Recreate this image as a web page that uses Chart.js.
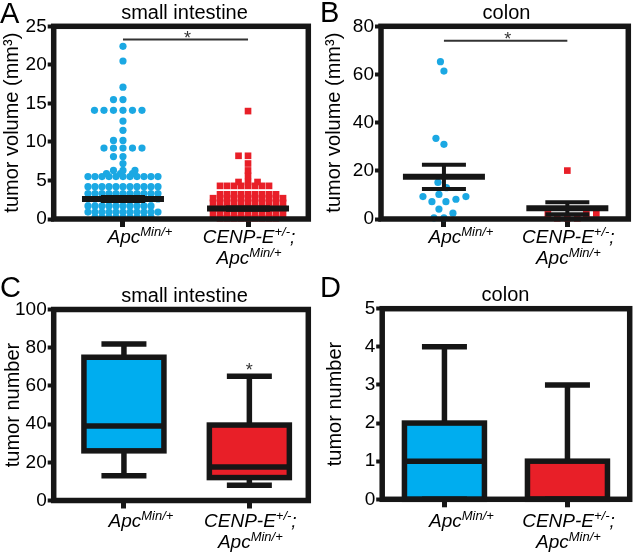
<!DOCTYPE html>
<html>
<head>
<meta charset="utf-8">
<script src="https://cdn.jsdelivr.net/npm/chart.js@4.4.1/dist/chart.umd.min.js"></script>
<style>
  html, body { margin: 0; padding: 0; background: #fff; }
  #wrap { position: relative; width: 633px; height: 555px; overflow: hidden; }
  #wrap canvas { position: absolute; left: 0; top: 0; }
</style>
</head>
<body>
<div id="wrap">
  <canvas id="chA" width="633" height="555"></canvas>
  <canvas id="chB" width="633" height="555"></canvas>
  <canvas id="chC" width="633" height="555"></canvas>
  <canvas id="chD" width="633" height="555"></canvas>
</div>
<script>
// groups (x categories)
const groups = ['Apc Min/+', 'CENP-E+/-; Apc Min/+'];

// A - small intestine, tumor volume (mm3), one value per tumor
const siVolApc = [
  22.4, 20.5, 17.1, 15.5, 15.5,
  14.1, 14.1, 14.1, 14.1, 14.1, 14.1,
  12.7, 11.5, 10.2, 10.2,
  9.2, 9.2, 9.2, 9.2, 9.2,
  8.1, 8.1, 7.2, 6.3, 6.3, 6.3,
  5.9, 5.9, 5.9,
  5.5, 5.5, 5.5, 5.5, 5.5, 5.5, 5.5, 5.5, 5.5, 5.5, 5.5,
  4.2, 4.2, 4.2, 4.2, 4.2, 4.2, 4.2, 4.2, 4.2, 4.2, 4.2,
  3.3, 3.3, 3.3, 3.3, 3.3, 3.3, 3.3, 3.3, 3.3, 3.3, 3.3,
  2.6, 2.6, 2.6, 2.6, 2.6, 2.6, 2.6, 2.6, 2.6, 2.6, 2.6,
  1.7, 1.7, 1.7, 1.7, 1.7, 1.7, 1.7, 1.7, 1.7, 1.7,
  0.9, 0.9, 0.9, 0.9, 0.9, 0.9, 0.9, 0.9, 0.9, 0.9, 0.9,
  0.2, 0.2, 0.2, 0.2, 0.2, 0.2, 0.2, 0.2, 0.2
];
const siVolCenp = [
  14.0, 8.2, 8.2, 7.2, 6.3, 5.6,
  4.8, 4.8, 4.8,
  4.3, 4.3, 4.3, 4.3, 4.3, 4.3, 4.3, 4.3,
  3.2, 3.2, 3.2, 3.2, 3.2, 3.2, 3.2, 3.2, 3.2,
  2.7, 2.7, 2.7, 2.7, 2.7, 2.7, 2.7, 2.7, 2.7, 2.7, 2.7,
  2.1, 2.1, 2.1, 2.1, 2.1, 2.1, 2.1, 2.1, 2.1, 2.1, 2.1,
  1.35, 1.35, 1.35, 1.35, 1.35, 1.35, 1.35, 1.35, 1.35, 1.35, 1.35,
  0.65, 0.65, 0.65, 0.65, 0.65, 0.65, 0.65, 0.65, 0.65, 0.65, 0.65,
  0.1, 0.1, 0.1, 0.1, 0.1, 0.1, 0.1, 0.1, 0.1
];
const siVolMean = [2.6, 1.35];
const siVolSem = [0.25, 0.15];
const siVolSig = 23.3;

// B - colon, tumor volume (mm3)
const coVolApc = [65.3, 61.4, 33.5, 31.0, 15.2, 13.0, 10.2, 9.3, 9.3, 8.2, 7.2, 7.2, 4.1, 2.4, 0.5, 0.5];
const coVolCenp = [20.1, 2.3, 2.2, 2.0, 0.3, 0.3, 0.3];
const coVolMean = [17.5, 4.5];
const coVolSem = [5.0, 2.5];
const coVolSig = 74;

// C - small intestine, tumor number (box & whiskers, min to max)
const siNumMin = [13, 8];
const siNumQ1  = [26, 12];
const siNumMed = [39, 17.5];
const siNumQ3  = [75, 39.5];
const siNumMax = [82, 65];
const siNumStar = 70.5;   // asterisk above CENP-E group

// D - colon, tumor number
const coNumMin = [0, 0];
const coNumQ1  = [0, 0];
const coNumMed = [1, 0];
const coNumQ3  = [2, 1];
const coNumMax = [4, 3];

// y axes
const yMaxA = 25, yStepA = 5;
const yMaxB = 80, yStepB = 20;
const yMaxC = 100, yStepC = 20;
const yMaxD = 5, yStepD = 1;

const FONT = '"Liberation Sans", Arial, Helvetica, sans-serif';
const INK = '#161616';
const BLUE = '#1ba8e3';
const RED = '#e81f28';
const BOXBLUE = '#00adef';
const W = 633, H = 555, YW = 40, XH = 20;

// plot frames (page pixels) and x ranges
const geoA = { left: 53.7, top: 26.3, right: 308.3, bottom: 219, xMin: -0.554, xMax: 1.482 };
const geoB = { left: 381, top: 26.3, right: 628.5, bottom: 219, xMin: -0.51, xMax: 1.494 };
const geoC = { left: 53.7, top: 309.5, right: 308.3, bottom: 500.5, xMin: -0.56, xMax: 1.47 };
const geoD = { left: 382.2, top: 308.7, right: 629.7, bottom: 499.3, xMin: -0.506, xMax: 1.506 };

// beeswarm: spread points sideways so they do not overlap;
// crowded rows are packed tighter than sparse ones
function swarm(values, cat, g, yMax, sw) {
  const pxX = (g.right - g.left) / (g.xMax - g.xMin);
  const pxY = (g.bottom - g.top) / yMax;
  const counts = {};
  values.forEach(v => { counts[v] = (counts[v] || 0) + 1; });
  const placed = [];
  values.slice().sort((a, b) => a - b).forEach(v => {
    const py = v * pxY;
    const gap = counts[v] > 6 ? sw.dense : sw.sparse;
    let o = 0;
    for (let k = 0; k < 600; k++) {
      o = (k % 2 ? -1 : 1) * Math.ceil(k / 2) * 0.5;
      const ok = placed.every(p => {
        const d = Math.max(gap, p.gap);
        return (p.o - o) ** 2 + ((p.py - py) * sw.kY) ** 2 >= d * d;
      });
      if (ok) break;
    }
    placed.push({ v, py, o, gap });
  });
  return placed.map(p => ({ x: cat + p.o / pxX, y: p.v }));
}

function layoutFor(g) {
  return { padding: { left: g.left - YW, top: g.top, right: W - g.right, bottom: H - g.bottom - XH } };
}

function axes(g, yMax, yStep) {
  return {
    x: {
      type: 'linear', min: g.xMin, max: g.xMax, offset: false,
      afterBuildTicks: s => { s.ticks = groups.map((_, i) => ({ value: i })); },
      afterFit: s => { s.height = XH; },
      ticks: { display: false },
      grid: { offset: false, drawOnChartArea: false, drawTicks: true, tickLength: 8, tickWidth: 5, tickColor: INK },
      border: { display: false }
    },
    y: {
      type: 'linear', min: 0, max: yMax,
      afterFit: s => { s.width = YW; },
      ticks: { stepSize: yStep, color: '#000', padding: 1, font: { family: FONT, size: 19 } },
      grid: { drawOnChartArea: false, drawTicks: true, tickLength: 6, tickWidth: 4, tickColor: INK },
      border: { display: false }
    }
  };
}

// x labels with superscripts: [base, sup, tail] per line
const groupLabels = [
  [['Apc', 'Min/+', '']],
  [['CENP-E', '+/-', ';'], ['Apc', 'Min/+', '']]
];
const labelShift = [17, 1];

function drawRich(ctx, cx, y, line) {
  const big = 'italic 19px ' + FONT, small = 'italic 13px ' + FONT;
  ctx.font = big; const w1 = ctx.measureText(line[0]).width, w3 = ctx.measureText(line[2]).width;
  ctx.font = small; const w2 = ctx.measureText(line[1]).width;
  let x = cx - (w1 + w2 + w3) / 2;
  ctx.textAlign = 'left'; ctx.textBaseline = 'alphabetic';
  ctx.font = big; ctx.fillText(line[0], x, y); x += w1;
  ctx.font = small; ctx.fillText(line[1], x, y - 7); x += w2;
  ctx.font = big; ctx.fillText(line[2], x, y);
}

function star(ctx, x, cy) {
  ctx.font = '18px ' + FONT; ctx.textAlign = 'center'; ctx.textBaseline = 'alphabetic';
  ctx.fillStyle = '#333';
  ctx.fillText('*', x, cy + 10.4);
}

function line(ctx, x1, y1, x2, y2) {
  ctx.beginPath(); ctx.moveTo(x1, y1); ctx.lineTo(x2, y2); ctx.stroke();
}

function decoPlugin(p) {
  return {
    id: 'deco',
    afterDatasetsDraw(chart) {
      const { ctx, chartArea: a } = chart;
      ctx.save();
      if (p.marks) p.marks(chart);
      ctx.strokeStyle = INK; ctx.lineWidth = 5.5; ctx.lineJoin = 'miter';
      ctx.strokeRect(a.left, a.top, a.right - a.left, a.bottom - a.top);
      ctx.restore();
    },
    afterDraw(chart) {
      const { ctx, chartArea: a, scales: { x } } = chart;
      ctx.save();
      ctx.fillStyle = '#000';
      ctx.font = '29px ' + FONT; ctx.textAlign = 'left'; ctx.textBaseline = 'alphabetic';
      ctx.fillText(p.letter, p.letterX, p.letterY);
      ctx.font = '20px ' + FONT; ctx.textAlign = 'center';
      ctx.fillText(p.title, p.titleX, p.titleY);
      ctx.save();
      ctx.translate(p.yTitleX, (a.top + a.bottom) / 2);
      ctx.rotate(-Math.PI / 2);
      ctx.textBaseline = 'middle';
      ctx.fillText(p.yTitle, 0, 0);
      ctx.restore();
      groupLabels.forEach((lines, i) => {
        const cx = x.getPixelForValue(i) + labelShift[i];
        lines.forEach((ln, j) => drawRich(ctx, cx, p.labelY + j * 21, ln));
      });
      if (p.after) p.after(chart);
      ctx.restore();
    }
  };
}

function meanSemMarks(means, sems) {
  return chart => {
    const { ctx, scales: { x, y } } = chart;
    ctx.strokeStyle = INK; ctx.lineCap = 'butt';
    means.forEach((m, i) => {
      const cx = x.getPixelForValue(i);
      const my = y.getPixelForValue(m);
      const hi = y.getPixelForValue(m + sems[i]), lo = y.getPixelForValue(m - sems[i]);
      ctx.lineWidth = 4;
      line(ctx, cx, hi, cx, lo);
      line(ctx, cx - 22, hi, cx + 22, hi);
      line(ctx, cx - 22, lo, cx + 22, lo);
      ctx.lineWidth = 6;
      line(ctx, cx - 41, my, cx + 41, my);
    });
  };
}

function sigBar(level) {
  return chart => {
    const { ctx, scales: { x, y } } = chart;
    const ly = y.getPixelForValue(level);
    const x0 = x.getPixelForValue(0), x1 = x.getPixelForValue(1);
    ctx.strokeStyle = '#333'; ctx.lineWidth = 2;
    line(ctx, x0, ly, x1, ly);
    star(ctx, (x0 + x1) / 2 + 2, ly - 6);
  };
}

function boxMarks(mins, q1, med, q3, maxs) {
  return chart => {
    const { ctx, scales: { y } } = chart;
    const meta = chart.getDatasetMeta(0);
    ctx.strokeStyle = INK; ctx.lineWidth = 5.5; ctx.lineCap = 'butt'; ctx.lineJoin = 'miter';
    meta.data.forEach((bar, i) => {
      const cx = bar.x, hw = bar.width / 2;
      const yMin = y.getPixelForValue(mins[i]), yMax = y.getPixelForValue(maxs[i]);
      const yQ1 = y.getPixelForValue(q1[i]), yQ3 = y.getPixelForValue(q3[i]);
      const yMed = y.getPixelForValue(med[i]);
      line(ctx, cx, yQ3, cx, yMax);
      line(ctx, cx - 22.5, yMax, cx + 22.5, yMax);
      line(ctx, cx, yQ1, cx, yMin);
      line(ctx, cx - 22.5, yMin, cx + 22.5, yMin);
      ctx.strokeRect(cx - hw, yQ3, hw * 2, yQ1 - yQ3);
      line(ctx, cx - hw, yMed, cx + hw, yMed);
    });
  };
}

function scatterChart(id, g, yMax, yStep, apc, cenp, sw, p) {
  return new Chart(document.getElementById(id), {
    type: 'scatter',
    data: {
      datasets: [
        { data: swarm(apc, 0, g, yMax, sw), pointStyle: 'circle', pointRadius: 3.6,
          backgroundColor: BLUE, borderWidth: 0, clip: false },
        { data: swarm(cenp, 1, g, yMax, sw), pointStyle: 'rect', pointRadius: 4.7,
          backgroundColor: RED, borderWidth: 0, clip: false }
      ]
    },
    options: {
      responsive: false, animation: false, events: [],
      layout: layoutFor(g),
      plugins: { legend: { display: false }, tooltip: { enabled: false } },
      scales: axes(g, yMax, yStep)
    },
    plugins: [decoPlugin(p)]
  });
}

function boxChart(id, g, yMax, yStep, mins, q1, med, q3, maxs, p) {
  return new Chart(document.getElementById(id), {
    type: 'bar',
    data: {
      datasets: [{
        data: groups.map((_, i) => ({ x: i, y: [q1[i], q3[i]] })),
        backgroundColor: [BOXBLUE, RED], borderWidth: 0, barThickness: 80
      }]
    },
    options: {
      responsive: false, animation: false, events: [],
      layout: layoutFor(g),
      plugins: { legend: { display: false }, tooltip: { enabled: false } },
      scales: axes(g, yMax, yStep)
    },
    plugins: [decoPlugin(Object.assign({ marks: boxMarks(mins, q1, med, q3, maxs) }, p))]
  });
}

scatterChart('chA', geoA, yMaxA, yStepA, siVolApc, siVolCenp, { sparse: 9.5, dense: 7, kY: 3 }, {
  letter: 'A', letterX: 0, letterY: 23, title: 'small intestine', titleX: 184.5, titleY: 19,
  yTitle: 'tumor volume (mm³)', yTitleX: 12, labelY: 243,
  marks: meanSemMarks(siVolMean, siVolSem), after: sigBar(siVolSig)
});

scatterChart('chB', geoB, yMaxB, yStepB, coVolApc, coVolCenp, { sparse: 10, dense: 10, kY: 1 }, {
  letter: 'B', letterX: 320, letterY: 22, title: 'colon', titleX: 506.5, titleY: 19,
  yTitle: 'tumor volume (mm³)', yTitleX: 334, labelY: 243,
  marks: meanSemMarks(coVolMean, coVolSem), after: sigBar(coVolSig)
});

boxChart('chC', geoC, yMaxC, yStepC, siNumMin, siNumQ1, siNumMed, siNumQ3, siNumMax, {
  letter: 'C', letterX: 0, letterY: 297, title: 'small intestine', titleX: 184.5, titleY: 302,
  yTitle: 'tumor number', yTitleX: 13, labelY: 527,
  after: chart => {
    const { ctx, scales: { x, y } } = chart;
    star(ctx, x.getPixelForValue(1), y.getPixelForValue(siNumStar));
  }
});

boxChart('chD', geoD, yMaxD, yStepD, coNumMin, coNumQ1, coNumMed, coNumQ3, coNumMax, {
  letter: 'D', letterX: 320, letterY: 297, title: 'colon', titleX: 505.5, titleY: 301,
  yTitle: 'tumor number', yTitleX: 335, labelY: 527
});
</script>
</body>
</html>
